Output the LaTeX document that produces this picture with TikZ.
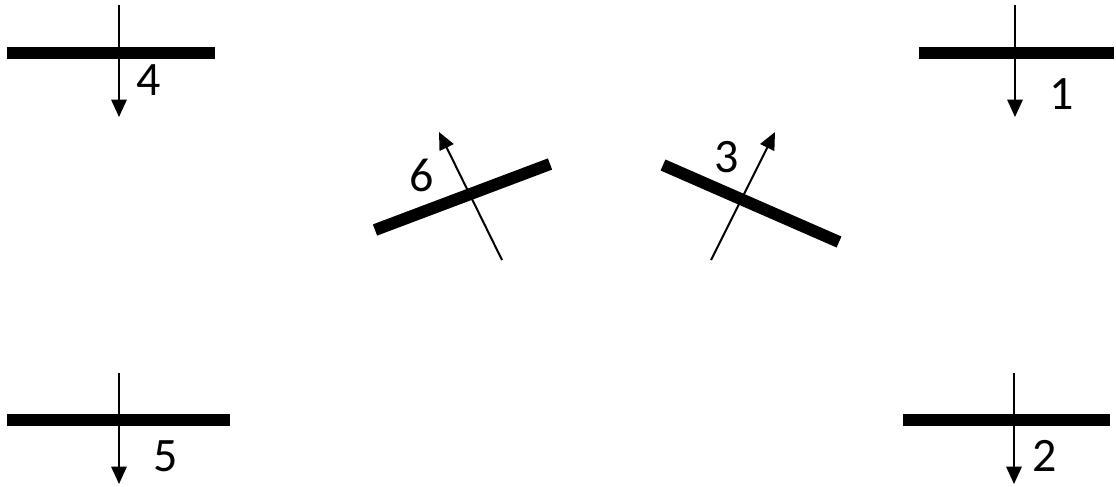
\documentclass[tikz,border=0pt]{standalone}
\usepackage{fontspec}
\setmainfont{Carlito}
\usepackage{tikz}
\usetikzlibrary{arrows.meta, positioning, calc}

\tikzset{
  mirror/.style={line width=9pt, black},
  beam/.style={line width=1.5pt, black},
  beamarrow/.style={beam, -{Triangle[length=13pt, width=11.5pt]}},
  num/.style={font=\fontsize{36}{40}\selectfont, inner sep=0pt}
}

\begin{document}
\begin{tikzpicture}[x=0.75pt, y=-0.75pt]
  \useasboundingbox (0,0) rectangle (1116,486);
  % flat mirrors with beam going down
  \foreach \name/\xa/\xb/\yb/\xc/\ytop/\ytip/\lx/\ly in {
      4/7/215/53/119/5/117/149/80,
      1/919/1114/53/1015/5/117/1062/94,
      5/7/230/420/119/373/484/166/456,
      2/903/1110/420/1014/373/484/1045/456} {
    \draw[mirror] (\xa,\yb) -- (\xb,\yb);
    \coordinate (top\name) at (\xc,\ytop);
    \coordinate (tip\name) at (\xc,\ytip);
    \draw[beamarrow] (top\name) -- (tip\name);
    \node[num] (lab\name) at (\lx,\ly) {\name};
  }
  % tilted mirrors
  \coordinate (m6a) at (375,230);
  \coordinate (m6b) at (550,164);
  \coordinate (m3a) at (663,165);
  \coordinate (m3b) at (839,242);
  \draw[mirror] (m6a) -- (m6b);
  \draw[mirror] (m3a) -- (m3b);
  \coordinate (start6) at (502,260);
  \coordinate (tip6) at (439,132);
  \coordinate (start3) at (711,260);
  \coordinate (tip3) at (775,132);
  \draw[beamarrow] (start6) -- (tip6);
  \draw[beamarrow] (start3) -- (tip3);
  \node[num] (lab6) at (422,175) {6};
  \node[num] (lab3) at (727,157) {3};
\end{tikzpicture}
\end{document}
